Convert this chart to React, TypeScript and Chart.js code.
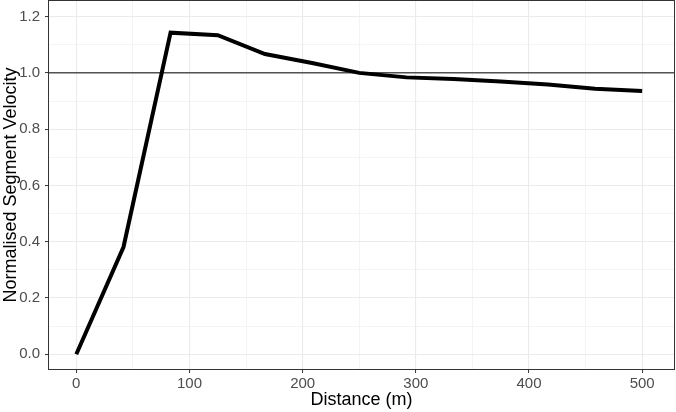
import React, { useEffect, useRef } from 'react';
import { Chart, registerables } from 'chart.js';

Chart.register(...registerables);

const distances = [0, 41.7, 83.3, 125, 166.7, 208.3, 250, 291.7, 333.3, 375, 416.7, 458.3, 500];
const velocities = [0.0, 0.381, 1.143, 1.134, 1.067, 1.035, 1.0, 0.984, 0.978, 0.969, 0.959, 0.944, 0.936];
const referenceLevel = 1.0;
const xMajorTicks = [0, 100, 200, 300, 400, 500];
const xMinorTicks = [50, 150, 250, 350, 450];
const yMajorTicks = [0, 0.2, 0.4, 0.6, 0.8, 1.0, 1.2];
const yMinorTicks = [0.1, 0.3, 0.5, 0.7, 0.9, 1.1];
const xRange = [-25, 529];
const yRange = [-0.056, 1.259];
const xTitle = 'Distance (m)';
const yTitle = 'Normalised Segment Velocity';

const FONT = '"Liberation Sans", Arial, sans-serif';

const isMajor = (v: number, majors: number[]) => majors.some((m) => Math.abs(m - v) < 1e-6);

export default function App() {
  const ref = useRef<HTMLCanvasElement | null>(null);

  useEffect(() => {
    document.body.style.margin = '0';
    const canvas = ref.current;
    if (!canvas) return;

    const borderPlugin = {
      id: 'panelBorder',
      afterDraw(chart: any) {
        const { ctx, chartArea } = chart;
        ctx.save();
        ctx.strokeStyle = '#333333';
        ctx.lineWidth = 1;
        ctx.strokeRect(chartArea.left + 0.5, chartArea.top + 0.5, chartArea.right - chartArea.left - 1, chartArea.bottom - chartArea.top - 1);
        ctx.restore();
      },
    };

    const allX = [...xMajorTicks, ...xMinorTicks].sort((a, b) => a - b);
    const allY = [...yMajorTicks, ...yMinorTicks].sort((a, b) => a - b);

    const chart = new Chart(canvas, {
      type: 'line',
      data: {
        datasets: [
          {
            data: distances.map((d, i) => ({ x: d, y: velocities[i] })),
            borderColor: '#000000',
            borderWidth: 4,
            pointRadius: 0,
            tension: 0,
            fill: false,
            borderJoinStyle: 'miter',
          },
          {
            data: [
              { x: xRange[0], y: referenceLevel },
              { x: xRange[1], y: referenceLevel },
            ],
            borderColor: '#000000',
            borderWidth: 1,
            pointRadius: 0,
            fill: false,
          },
        ],
      },
      options: {
        animation: false,
        responsive: false,
        devicePixelRatio: 1,
        layout: { padding: { top: 0, right: 1, left: 0, bottom: 0 } },
        plugins: { legend: { display: false }, tooltip: { enabled: false } },
        scales: {
          x: {
            type: 'linear',
            min: xRange[0],
            max: xRange[1],
            afterBuildTicks: (scale: any) => {
              scale.ticks = allX.map((v) => ({ value: v }));
            },
            afterFit: (scale: any) => {
              scale.height = 42;
              scale.paddingLeft = 0;
              scale.paddingRight = 0;
            },
            ticks: {
              autoSkip: false,
              maxRotation: 0,
              padding: 2,
              color: '#4d4d4d',
              font: { family: FONT, size: 15 },
              callback: (v: any) => (isMajor(Number(v), xMajorTicks) ? String(Number(v)) : ''),
            },
            grid: {
              color: '#ebebeb',
              lineWidth: (c: any) => (isMajor(c.tick.value, xMajorTicks) ? 1.1 : 0.55),
              tickColor: (c: any) => (isMajor(c.tick.value, xMajorTicks) ? '#333333' : 'rgba(0,0,0,0)'),
              tickLength: 3,
              tickWidth: 1,
            },
            border: { display: false },
            title: {
              display: true,
              text: xTitle,
              color: '#000000',
              font: { family: FONT, size: 18 },
              padding: { top: 0, bottom: 1 },
            },
          },
          y: {
            type: 'linear',
            min: yRange[0],
            max: yRange[1],
            afterBuildTicks: (scale: any) => {
              scale.ticks = allY.map((v) => ({ value: v }));
            },
            afterFit: (scale: any) => {
              scale.width = 48;
              scale.paddingTop = 0;
              scale.paddingBottom = 0;
            },
            ticks: {
              autoSkip: false,
              padding: 5,
              color: '#4d4d4d',
              font: { family: FONT, size: 15 },
              callback: (v: any) => (isMajor(Number(v), yMajorTicks) ? Number(v).toFixed(1) : ''),
            },
            grid: {
              color: '#ebebeb',
              lineWidth: (c: any) => (isMajor(c.tick.value, yMajorTicks) ? 1.1 : 0.55),
              tickColor: (c: any) => (isMajor(c.tick.value, yMajorTicks) ? '#333333' : 'rgba(0,0,0,0)'),
              tickLength: 3,
              tickWidth: 1,
            },
            border: { display: false },
            title: {
              display: true,
              text: yTitle,
              color: '#000000',
              font: { family: FONT, size: 18 },
              padding: { top: 0, bottom: 0 },
            },
          },
        },
      },
      plugins: [borderPlugin],
    } as any);

    return () => chart.destroy();
  }, []);

  return (
    <div style={{ width: 676, height: 412 }}>
      <canvas ref={ref} width={676} height={412} style={{ display: 'block', width: 676, height: 412 }} />
    </div>
  );
}
